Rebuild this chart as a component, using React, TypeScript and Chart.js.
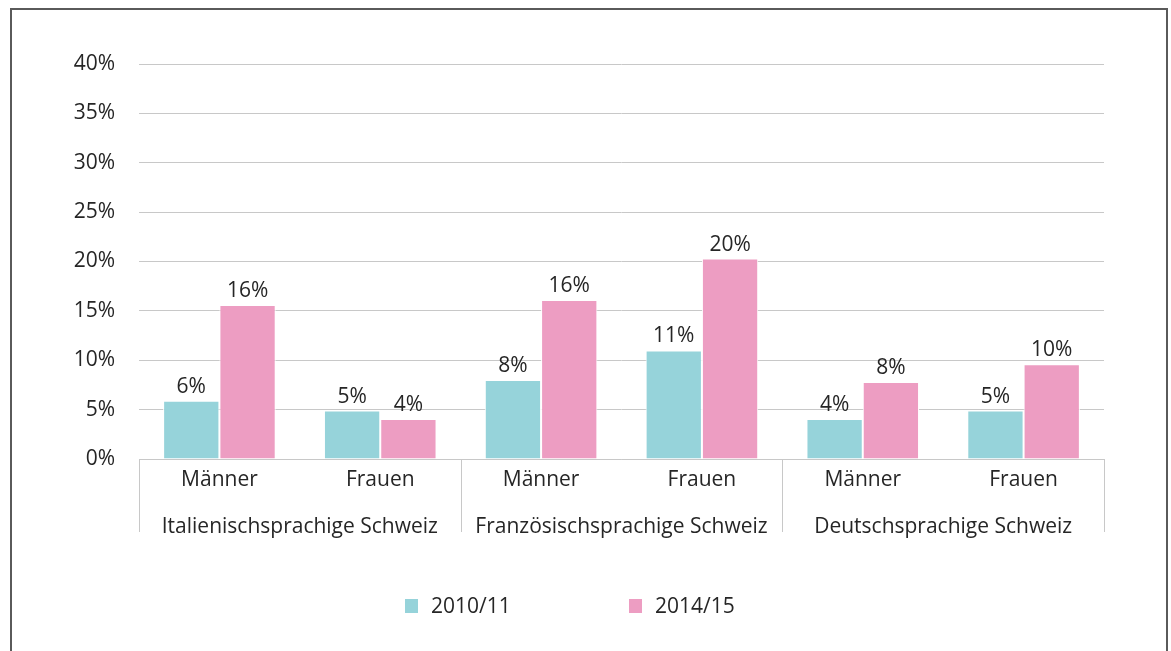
import React, { useEffect, useRef } from "react";
import { Chart, registerables } from "chart.js";

Chart.register(...registerables);

const categories = ["Männer", "Frauen", "Männer", "Frauen", "Männer", "Frauen"];
const groups = ["Italienischsprachige Schweiz", "Französischsprachige Schweiz", "Deutschsprachige Schweiz"];
const series2010 = [5.9, 4.9, 8.0, 11.0, 4.05, 4.9];
const series2014 = [15.6, 4.05, 16.1, 20.3, 7.8, 9.6];
const labels2010 = ["6%", "5%", "8%", "11%", "4%", "5%"];
const labels2014 = ["16%", "4%", "16%", "20%", "8%", "10%"];
const seriesNames = ["2010/11", "2014/15"];
const yTicks = [0, 5, 10, 15, 20, 25, 30, 35, 40];

const TEAL = "#96D3DA";
const PINK = "#ED9DC2";
const TEXT = "#262626";
const GRID = "#C8C8C8";
const FONT = "'Open Sans', sans-serif";
const FS = 21;

const overlay = {
  id: "overlay",
  afterDatasetsDraw(chart: any) {
    const ctx = chart.ctx;
    const area = chart.chartArea;
    const x = chart.scales.x;
    ctx.save();
    // data labels
    ctx.font = `${FS}px ${FONT}`;
    ctx.fillStyle = TEXT;
    ctx.textAlign = "center";
    ctx.textBaseline = "alphabetic";
    const labelSets = [labels2010, labels2014];
    chart.data.datasets.forEach((ds: any, di: number) => {
      const meta = chart.getDatasetMeta(di);
      meta.data.forEach((bar: any, i: number) => {
        ctx.fillText(labelSets[di][i], bar.x, bar.y - 8);
      });
    });
    // axis line
    ctx.strokeStyle = GRID;
    ctx.lineWidth = 1;
    ctx.beginPath();
    ctx.moveTo(area.left, area.bottom + 0.5);
    ctx.lineTo(area.right, area.bottom + 0.5);
    ctx.stroke();
    // separators
    const n = categories.length;
    const w = (area.right - area.left) / n;
    for (let g = 0; g <= groups.length; g++) {
      const px = Math.round(area.left + g * 2 * w) + 0.5;
      ctx.beginPath();
      ctx.moveTo(px, area.bottom);
      ctx.lineTo(px, area.bottom + 73);
      ctx.stroke();
    }
    // category labels
    ctx.fillStyle = TEXT;
    ctx.textBaseline = "middle";
    categories.forEach((c, i) => {
      ctx.fillText(c, x.getPixelForValue(i), area.bottom + 21);
    });
    groups.forEach((g, gi) => {
      const cx = area.left + (gi * 2 + 1) * w;
      ctx.fillText(g, cx, area.bottom + 68);
    });
    // legend
    const items = [
      { x: 405, color: TEAL, label: seriesNames[0] },
      { x: 629, color: PINK, label: seriesNames[1] },
    ];
    ctx.textAlign = "left";
    items.forEach((it) => {
      ctx.fillStyle = it.color;
      ctx.fillRect(it.x, 599, 13, 14);
      ctx.fillStyle = TEXT;
      ctx.fillText(it.label, it.x + 26, 607);
    });
    ctx.restore();
  },
};

export default function App() {
  const ref = useRef<HTMLCanvasElement | null>(null);
  useEffect(() => {
    if (!ref.current) return;
    const chart = new Chart(ref.current, {
      type: "bar",
      data: {
        labels: categories,
        datasets: [
          {
            label: seriesNames[0],
            data: series2010,
            backgroundColor: TEAL,
            borderColor: "#ffffff",
            borderWidth: 1,
            barPercentage: 1,
            categoryPercentage: 0.7,
          },
          {
            label: seriesNames[1],
            data: series2014,
            backgroundColor: PINK,
            borderColor: "#ffffff",
            borderWidth: 1,
            barPercentage: 1,
            categoryPercentage: 0.7,
          },
        ],
      },
      options: {
        animation: false,
        responsive: false,
        maintainAspectRatio: false,
        layout: { padding: { left: 39, right: 67, top: 64, bottom: 192 } },
        plugins: { legend: { display: false }, tooltip: { enabled: false } },
        scales: {
          x: { display: false },
          y: {
            min: 0,
            max: 40,
            afterFit: (s: any) => {
              s.width = 100;
            },
            afterBuildTicks: (s: any) => {
              s.ticks = yTicks.map((v) => ({ value: v }));
            },
            border: { display: false },
            grid: { color: GRID, drawTicks: false, lineWidth: 1 },
            ticks: {
              padding: 24,
              color: TEXT,
              font: { family: FONT, size: FS },
              callback: (v: any) => `${v}%`,
            },
          },
        },
      },
      plugins: [overlay],
    });
    return () => chart.destroy();
  }, []);
  return (
    <div style={{ position: "absolute", left: 0, top: 0, width: 1171, height: 651, overflow: "hidden", background: "#fff" }}>
      <canvas ref={ref} width={1171} height={651} style={{ position: "absolute", left: 0, top: 0 }} />
      <div
        style={{
          position: "absolute",
          left: 10,
          top: 8,
          width: 1154,
          height: 700,
          border: "2px solid #5a5a5a",
          pointerEvents: "none",
        }}
      />
    </div>
  );
}
